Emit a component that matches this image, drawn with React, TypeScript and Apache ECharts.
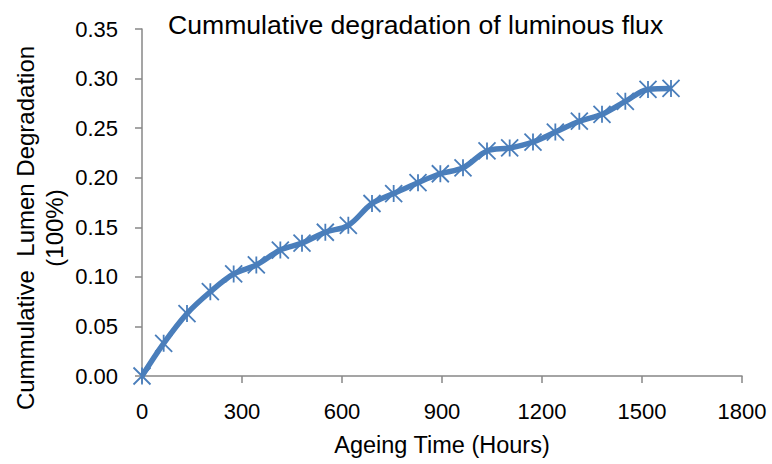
import React, { useEffect, useRef } from "react";
import * as echarts from "echarts";

const hours = [0, 65, 135, 205, 275, 343, 415, 480, 550, 619, 690, 755, 828, 895, 963, 1035, 1103, 1173, 1240, 1312, 1380, 1450, 1518, 1587];
const degradation = [0, 0.033, 0.063, 0.085, 0.103, 0.112, 0.127, 0.134, 0.145, 0.152, 0.174, 0.184, 0.195, 0.204, 0.21, 0.227, 0.23, 0.236, 0.246, 0.257, 0.264, 0.277, 0.289, 0.29];

const titleText = "Cummulative degradation of luminous flux";
const xName = "Ageing Time (Hours)";
const yName = "Cummulative  Lumen Degradation\n(100%)";

const FONT = "'Liberation Sans', Arial, sans-serif";
const BLUE = "#4a7ebb";
const AXIS = "#878787";

export default function App() {
  const ref = useRef<HTMLDivElement>(null);
  useEffect(() => {
    if (!ref.current) return;
    const chart = echarts.init(ref.current, null, { renderer: "svg" });
    chart.setOption({
      animation: false,
      backgroundColor: "#ffffff",
      title: {
        text: titleText,
        left: 163,
        top: 6,
        textStyle: { fontFamily: FONT, fontSize: 26.6, fontWeight: "normal", color: "#000" },
      },
      graphic: [
        {
          type: "text",
          x: 40,
          y: 228,
          rotation: Math.PI / 2,
          style: {
            text: yName,
            fontFamily: FONT,
            fontSize: 24,
            lineHeight: 29,
            fill: "#000",
            align: "center",
            verticalAlign: "middle",
          },
        },
      ],
      grid: { left: 142, right: 30, top: 29, bottom: 88, containLabel: false },
      xAxis: {
        type: "value",
        min: 0,
        max: 1800,
        interval: 300,
        name: xName,
        nameLocation: "middle",
        nameGap: 57,
        nameTextStyle: { fontFamily: FONT, fontSize: 23.5, color: "#000" },
        axisLine: { show: true, lineStyle: { color: AXIS, width: 1.5 } },
        axisTick: { show: true, length: 7, lineStyle: { color: AXIS, width: 1.5 } },
        axisLabel: {
          fontFamily: FONT,
          fontSize: 22,
          color: "#000",
          margin: 24,
          formatter: (v: number) => String(v),
        },
        splitLine: { show: false },
      },
      yAxis: {
        type: "value",
        min: 0,
        max: 0.35,
        interval: 0.05,
        axisLine: { show: true, lineStyle: { color: AXIS, width: 1.5 } },
        axisTick: { show: true, length: 7, lineStyle: { color: AXIS, width: 1.5 } },
        axisLabel: {
          fontFamily: FONT,
          fontSize: 22,
          color: "#000",
          margin: 24,
          formatter: (v: number) => v.toFixed(2),
        },
        splitLine: { show: false },
      },
      series: [
        {
          type: "line",
          data: hours.map((h, i) => [h, degradation[i]]),
          smooth: 0.35,
          lineStyle: { color: BLUE, width: 5.5 },
          symbol: "path://M0,0L20,20M20,0L0,20M10,0L10,20",
          symbolSize: 17,
          itemStyle: { color: BLUE, borderColor: BLUE, borderWidth: 1.8 },
          z: 3,
        },
      ],
    });
    return () => chart.dispose();
  }, []);
  return (
    <div
      ref={ref}
      style={{ position: "fixed", left: 0, top: 0, width: 772, height: 464, background: "#fff" }}
    />
  );
}
